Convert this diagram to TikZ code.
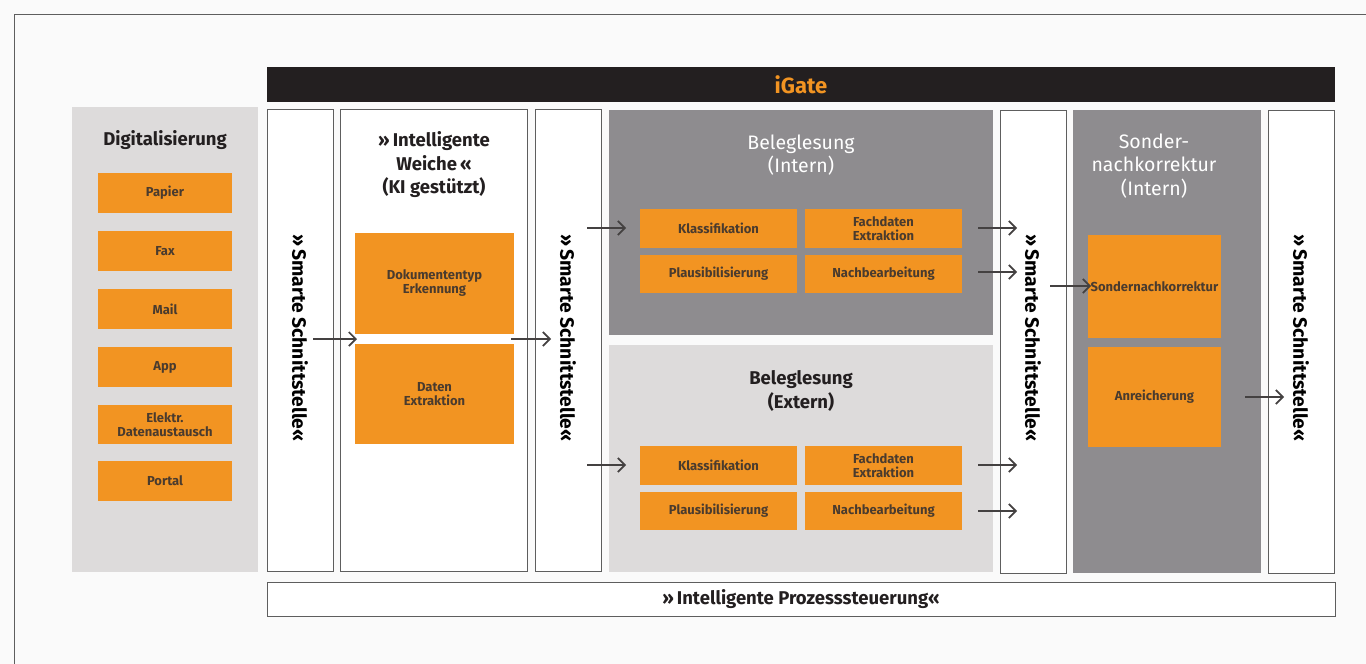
\documentclass[tikz,border=0pt]{standalone}
\usepackage{fontspec}
\setmainfont{Fira Sans}
\usetikzlibrary{arrows.meta}

\definecolor{igorange}{HTML}{F29422}
\definecolor{igdark}{HTML}{231F20}
\definecolor{iggray}{HTML}{8E8C8F}
\definecolor{iglight}{HTML}{DDDBDB}
\definecolor{igtext}{HTML}{4A3B2E}
\definecolor{igline}{HTML}{5E5E5E}
\definecolor{igpage}{HTML}{FAFAFA}

% rectangle node given by its corners: name, x1, y1, x2, y2, style, text
\newcommand{\rectnode}[7]{%
  \node[#6, minimum width={(#4)-(#2)}, minimum height={(#5)-(#3)}]
    (#1) at ({((#2)+(#4))/2},{((#3)+(#5))/2}) {#7};}

\tikzset{
  base/.style={inner sep=0pt, outer sep=0pt, align=center},
  obox/.style={base, fill=igorange, text=igtext,
    font=\bfseries\fontsize{13}{14}\selectfont},
  colbox/.style={base, fill=white, draw=igline, line width=0.9pt},
  darkpanel/.style={base, fill=iggray},
  lightpanel/.style={base, fill=iglight},
  titledark/.style={base, text=igdark, font=\bfseries\fontsize{18.5}{23.5}\selectfont},
  titlewhite/.style={base, text=white, font=\fontsize{19.5}{23.5}\selectfont},
  vtext/.style={base, rotate=-90, text=black, font=\bfseries\fontsize{19.3}{20}\selectfont},
  arr/.style={-{Straight Barb[length=7pt,width=14pt,line width=1.7pt]},
    line width=1.7pt, draw=igdark!85},
}

\begin{document}
\begin{tikzpicture}[x=1pt,y=-1pt]
\useasboundingbox (0,0) rectangle (1366,664);
\fill[igpage] (0,0) rectangle (1366,664);
% outer frame
\draw[igline, line width=1pt] (14,664) -- (14,14) -- (1366,14);

% header bar
\rectnode{igate}{267}{67}{1335}{102}{base, fill=igdark, text=igorange,
  font=\bfseries\fontsize{22}{22}\selectfont}{iGate}

% Digitalisierung column
\rectnode{dig}{72}{107}{258}{572}{base, fill=iglight}{}
\node[titledark] (digt) at (165,140) {Digitalisierung};
\rectnode{papier}{98}{173}{232}{213}{obox}{Papier}
\rectnode{fax}{98}{231}{232}{271}{obox}{Fax}
\rectnode{mail}{98}{289}{232}{329}{obox}{Mail}
\rectnode{app}{98}{347}{232}{387}{obox}{App}
\rectnode{edi}{98}{405}{232}{444}{obox}{Elektr.\\Datenaustausch}
\rectnode{portal}{98}{461}{232}{501}{obox}{Portal}

% interface columns
\rectnode{s1}{267}{109}{333}{571}{colbox}{}
\rectnode{s2}{535}{109}{601}{571}{colbox}{}
\rectnode{s3}{1000}{110}{1066}{573}{colbox}{}
\rectnode{s4}{1268}{110}{1334}{573}{colbox}{}
\node[vtext] (s1t) at (300,338) {»\,Smarte Schnittstelle«};
\node[vtext] (s2t) at (568,338) {»\,Smarte Schnittstelle«};
\node[vtext] (s3t) at (1033,338) {»\,Smarte Schnittstelle«};
\node[vtext] (s4t) at (1301,338) {»\,Smarte Schnittstelle«};

% intelligent switch
\rectnode{weiche}{340}{109}{527}{571}{colbox}{}
\node[titledark] (weichet) at (434,165) {»\,Intelligente\\Weiche\,«\\(KI gestützt)};
\rectnode{doktyp}{355}{233}{514}{334}{obox}{Dokumententyp\\Erkennung}
\rectnode{datex}{355}{344}{514}{444}{obox}{Daten\\Extraktion}

% Beleglesung intern
\rectnode{bint}{609}{110}{993}{335}{darkpanel}{}
\node[titlewhite] (bintt) at (801,155) {Beleglesung\\(Intern)};
\rectnode{ik}{640}{209}{797}{248}{obox}{Klassifikation}
\rectnode{ifd}{805}{209}{962}{248}{obox}{Fachdaten\\Extraktion}
\rectnode{ip}{640}{255}{797}{293}{obox}{Plausibilisierung}
\rectnode{inb}{805}{255}{962}{293}{obox}{Nachbearbeitung}

% Beleglesung extern
\rectnode{bext}{609}{345}{993}{572}{lightpanel}{}
\node[titledark] (bextt) at (801,391) {Beleglesung\\(Extern)};
\rectnode{ek}{640}{446}{797}{485}{obox}{Klassifikation}
\rectnode{efd}{805}{446}{962}{485}{obox}{Fachdaten\\Extraktion}
\rectnode{ep}{640}{492}{797}{530}{obox}{Plausibilisierung}
\rectnode{enb}{805}{492}{962}{530}{obox}{Nachbearbeitung}

% Sondernachkorrektur
\rectnode{snk}{1073}{110}{1261}{573}{darkpanel}{}
\node[titlewhite] (snkt) at (1154,166) {Sonder-\\nachkorrektur\\(Intern)};
\rectnode{snkb}{1088}{235}{1221}{338}{obox}{Sondernachkorrektur}
\rectnode{anr}{1088}{347}{1221}{447}{obox}{Anreicherung}

% process control bar
\rectnode{proz}{267}{582}{1335}{616}{colbox, text=igdark,
  font=\bfseries\fontsize{18.5}{19}\selectfont}{»\,Intelligente Prozesssteuerung«}

% arrow end points
\coordinate (a1s) at (313,339);   \coordinate (a1e) at (357,339);
\coordinate (a2s) at (511,339);   \coordinate (a2e) at (551,339);
\coordinate (a3s) at (587,228);   \coordinate (a3e) at (626,228);
\coordinate (a4s) at (587,465);   \coordinate (a4e) at (626,465);
\coordinate (a5s) at (978,228);   \coordinate (a5e) at (1017,228);
\coordinate (a6s) at (978,272);   \coordinate (a6e) at (1017,272);
\coordinate (a7s) at (978,465);   \coordinate (a7e) at (1017,465);
\coordinate (a8s) at (978,511);   \coordinate (a8e) at (1017,511);
\coordinate (a9s) at (1050,286);  \coordinate (a9e) at (1091,286);
\coordinate (a10s) at (1245,397); \coordinate (a10e) at (1284,397);

\foreach \i in {1,...,10} {\draw[arr] (a\i s) -- (a\i e);}
\end{tikzpicture}
\end{document}
